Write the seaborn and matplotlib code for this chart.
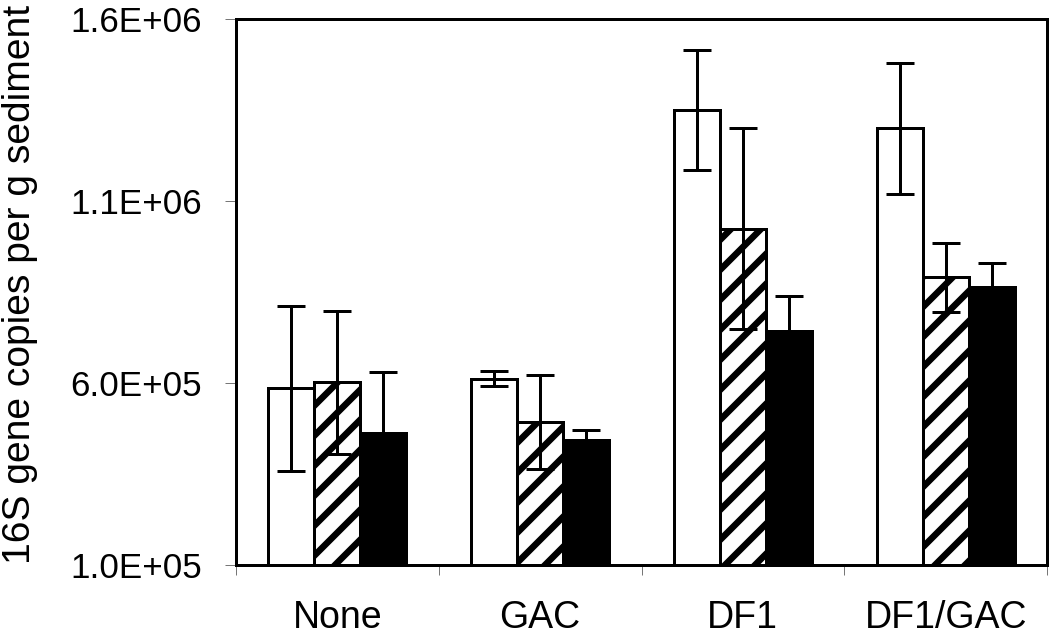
import numpy as np
import pandas as pd
import matplotlib
matplotlib.use("Agg")
import matplotlib.pyplot as plt
import seaborn as sns

# ---------------- data ----------------
categories = ["None", "GAC", "DF1", "DF1/GAC"]
series_names = ["Series 1", "Series 2", "Series 3"]
series1 = [5.85e5, 6.12e5, 1.35e6, 1.30e6]
series1_err = [2.26e5, 2.0e4, 1.65e5, 1.80e5]
series2 = [6.02e5, 4.92e5, 1.024e6, 8.90e5]
series2_err = [1.97e5, 1.29e5, 2.77e5, 9.5e4]
series3 = [4.64e5, 4.44e5, 7.43e5, 8.64e5]
series3_err = [1.67e5, 2.6e4, 9.7e4, 6.7e4]
y_ticks = [1.0e5, 6.0e5, 1.1e6, 1.6e6]
y_tick_labels = ["1.0E+05", "6.0E+05", "1.1E+06", "1.6E+06"]
y_label = "16S gene copies per g sediment"

# ---------------- style ----------------
DPI = 180
P = 72.0 / DPI  # points per pixel

sns.set_style("white")
plt.rcParams["font.family"] = ["Liberation Sans", "DejaVu Sans"]
plt.rcParams["hatch.linewidth"] = 6.5 * P
plt.rcParams["hatch.color"] = "black"

values = [series1, series2, series3]
errors = [series1_err, series2_err, series3_err]
rows = []
for name, vals, errs in zip(series_names, values, errors):
    for c, v, e in zip(categories, vals, errs):
        rows.append({"category": c, "series": name, "value": v, "err": e})
df = pd.DataFrame(rows)

fig = plt.figure(figsize=(1050 / DPI, 635 / DPI), dpi=DPI)
ax = fig.add_axes([236 / 1050, 1 - 565 / 635, (1047 - 236) / 1050, (565 - 19) / 635])

sns.barplot(data=df, x="category", y="value", hue="series",
            order=categories, hue_order=series_names,
            palette=["white", "white", "black"], saturation=1,
            width=0.68, errorbar=None, legend=False, ax=ax,
            edgecolor="black", linewidth=3 * P, zorder=2)

hatches = [None, "//", None]
for container, hatch, errs in zip(ax.containers, hatches, errors):
    xs, hs = [], []
    for bar in container:
        if hatch:
            bar.set_hatch(hatch)
        xs.append(bar.get_x() + bar.get_width() / 2)
        hs.append(bar.get_height())
    ax.errorbar(xs, hs, yerr=errs, fmt="none", ecolor="black",
                elinewidth=3 * P, capsize=14 * P, capthick=3 * P, zorder=3)

ax.set_xlim(-0.5, len(categories) - 0.5)
ax.set_ylim(1.0e5, 1.6e6)
ax.set_yticks(y_ticks, y_tick_labels)
ax.set_xticks(range(len(categories)), categories)
ax.set_xticks(np.arange(-0.5, len(categories), 1.0), minor=True)

for s in ax.spines.values():
    s.set_visible(True)
    s.set_color("black")
    s.set_linewidth(3 * P)

ax.tick_params(axis="y", which="major", left=True, length=11 * P, width=1 * P,
               color="#777777", pad=23 * P, labelsize=35 * P, labelcolor="black")
ax.tick_params(axis="x", which="major", bottom=True, length=0, pad=35 * P,
               labelsize=37.5 * P, labelcolor="black")
ax.tick_params(axis="x", which="minor", bottom=True, length=10 * P, width=1 * P,
               color="#777777")

ax.set_xlabel("")
ax.set_ylabel(y_label, fontsize=39 * P, color="black")
ax.yaxis.set_label_coords(-0.244, 0.513)

fig.savefig("out.png", dpi=DPI)
